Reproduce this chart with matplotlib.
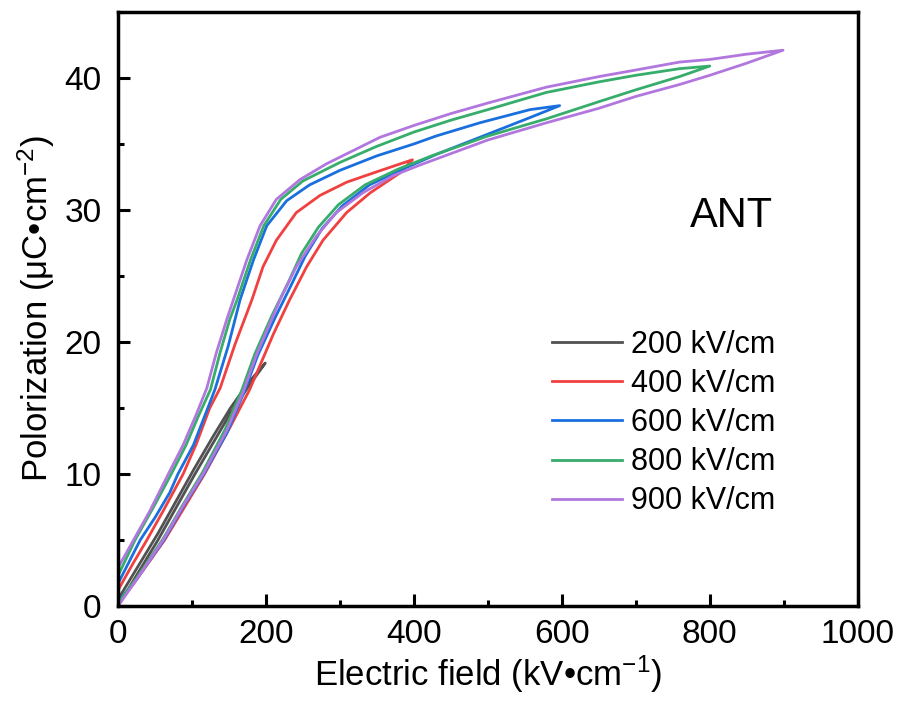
import numpy as np
import matplotlib
matplotlib.use("Agg")
import matplotlib.pyplot as plt
from matplotlib.ticker import MultipleLocator

plt.rcParams['font.family'] = ['Liberation Sans', 'DejaVu Sans']
plt.rcParams['mathtext.fontset'] = 'custom'
plt.rcParams['mathtext.rm'] = 'Liberation Sans'
plt.rcParams['mathtext.it'] = 'Liberation Sans:italic'

# P-E loops: "up" = rising field (lower branch), "down" = falling field (upper branch)
# 200 kV/cm
e200_up = [0, 27, 54, 78, 103, 128, 152, 176, 199]
p200_up = [0.0, 2.5, 5.0, 7.4, 9.9, 12.3, 14.6, 16.6, 18.4]
e200_down = [199, 176, 152, 128, 103, 78, 54, 27, 0]
p200_down = [18.4, 16.9, 15.0, 12.8, 10.4, 7.9, 5.5, 3.0, 0.5]

# 400 kV/cm
e400_up = [0, 25, 63, 90, 117, 152, 178, 210, 232, 255, 277, 309, 341, 381, 398]
p400_up = [0.1, 2.0, 5.0, 7.5, 10.0, 13.6, 16.4, 20.6, 23.2, 25.7, 27.7, 29.8, 31.3, 32.8, 33.8]
e400_down = [398, 345, 309, 273, 241, 214, 196, 181, 158, 138, 124, 106, 88, 61, 39, 20, 0]
p400_down = [33.8, 32.8, 32.1, 31.1, 29.8, 27.7, 25.7, 23.2, 19.8, 16.5, 15.0, 12.3, 10.0, 7.2, 5.0, 3.2, 1.2]

# 600 kV/cm
e600_up = [0, 26, 62, 89, 116, 148, 171, 189, 212, 234, 253, 276, 303, 340, 385, 430, 489, 557, 597]
p600_up = [0.3, 2.1, 5.0, 7.6, 10.0, 13.2, 16.3, 19.0, 21.8, 24.3, 26.5, 28.6, 30.3, 31.9, 33.1, 34.2, 35.5, 37.0, 37.9]
e600_down = [597, 557, 489, 430, 400, 350, 300, 259, 228, 201, 183, 165, 149, 131, 120, 102, 81, 70, 50, 30, 0]
p600_down = [37.9, 37.6, 36.6, 35.6, 35.0, 34.1, 33.0, 31.9, 30.7, 28.8, 26.2, 23.2, 19.7, 16.4, 14.8, 12.2, 10.0, 8.6, 6.7, 5.0, 1.7]

# 800 kV/cm
e800_up = [0, 25, 61, 88, 114, 145, 167, 185, 208, 230, 248, 271, 298, 334, 379, 424, 500, 579, 650, 700, 759, 800]
p800_up = [0.2, 2.1, 5.1, 7.7, 10.1, 13.4, 16.3, 19.1, 22.0, 24.5, 26.7, 28.7, 30.4, 31.9, 33.1, 34.1, 35.6, 36.9, 38.2, 39.1, 40.1, 40.9]
e800_down = [800, 759, 700, 650, 579, 500, 450, 400, 349, 300, 250, 220, 197, 179, 161, 151, 138, 125, 108, 92, 72, 48, 23, 0]
p800_down = [40.9, 40.7, 40.2, 39.7, 38.9, 37.6, 36.8, 35.9, 34.8, 33.6, 32.2, 30.8, 28.8, 26.2, 23.2, 21.7, 19.2, 16.4, 14.3, 12.2, 10.0, 7.5, 5.0, 2.3]

# 900 kV/cm
e900_up = [0, 25, 61, 88, 115, 147, 169, 187, 219, 241, 268, 295, 331, 372, 408, 500, 579, 650, 700, 759, 800, 849, 899]
p900_up = [0.0, 2.0, 5.0, 7.6, 10.0, 13.3, 16.2, 19.0, 23.2, 25.7, 28.0, 29.8, 31.3, 32.6, 33.4, 35.3, 36.6, 37.7, 38.6, 39.5, 40.2, 41.1, 42.1]
e900_down = [899, 850, 800, 759, 700, 650, 579, 500, 450, 400, 354, 318, 282, 246, 214, 192, 174, 156, 147, 133, 120, 105, 88, 68, 43, 21, 0]
p900_down = [42.1, 41.8, 41.4, 41.2, 40.6, 40.1, 39.3, 38.1, 37.3, 36.4, 35.5, 34.5, 33.5, 32.3, 30.8, 28.8, 26.2, 23.2, 21.7, 19.2, 16.5, 14.4, 12.2, 10.0, 7.2, 5.0, 2.9]

labels = ['200 kV/cm', '400 kV/cm', '600 kV/cm', '800 kV/cm', '900 kV/cm']
colors = ['#515151', '#F14040', '#1A6FDF', '#37AD6B', '#B177DE']
loops = [
    (e200_up + e200_down, p200_up + p200_down),
    (e400_up + e400_down, p400_up + p400_down),
    (e600_up + e600_down, p600_up + p600_down),
    (e800_up + e800_down, p800_up + p800_down),
    (e900_up + e900_down, p900_up + p900_down),
]

fig = plt.figure(figsize=(9.01, 7.01), dpi=100)
ax = fig.add_axes([0.131, 0.1355, 0.821, 0.8475])

for (e, p), c, lab in zip(loops, colors, labels):
    ax.plot(e, p, color=c, lw=2.0, label=lab)

ax.set_xlim(0, 1000)
ax.set_ylim(0, 45)
ax.xaxis.set_major_locator(MultipleLocator(200))
ax.xaxis.set_minor_locator(MultipleLocator(100))
ax.yaxis.set_major_locator(MultipleLocator(10))
ax.yaxis.set_minor_locator(MultipleLocator(5))
ax.tick_params(which='both', direction='in', top=False, right=False, labelsize=24)
ax.tick_params(which='major', length=8.5, width=2.2)
ax.tick_params(which='minor', length=4.5, width=2.2)
ax.tick_params(axis='y', pad=12)
ax.tick_params(axis='x', pad=9)
for s in ax.spines.values():
    s.set_linewidth(2.5)

ax.set_xlabel('Electric field (kV\u2022cm$^{-1}$)', fontsize=25, labelpad=3)
ax.set_ylabel('Polorization (\u03bcC\u2022cm$^{-2}$)', fontsize=25, labelpad=5)

ax.text(773, 28.7, 'ANT', fontsize=30)

ax.legend(loc='upper left', bbox_to_anchor=(0.586, 0.465), frameon=False, fontsize=22,
          handlelength=2.3, handletextpad=0.3, labelspacing=0.3, borderpad=0, borderaxespad=0)

fig.savefig('out.png', dpi=100)
